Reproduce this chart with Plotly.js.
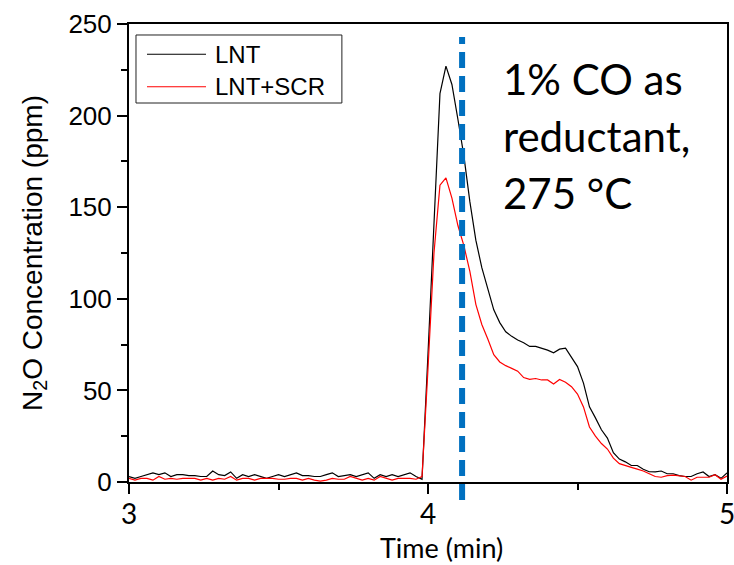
<!DOCTYPE html>
<html><head><meta charset="utf-8">
<script src="https://cdn.plot.ly/plotly-3.0.1.min.js"></script>
<style>html,body{margin:0;padding:0;background:#fff}#chart{width:734px;height:565px}</style>
</head><body><div id="chart"></div>
<script>
const seriesNames = ["LNT", "LNT+SCR"];
const timeMin = [3.00,3.02,3.04,3.06,3.08,3.10,3.12,3.14,3.16,3.18,3.20,3.22,3.24,3.26,3.28,3.30,3.32,3.34,3.36,3.38,3.40,3.42,3.44,3.46,3.48,3.50,3.52,3.54,3.56,3.58,3.60,3.62,3.64,3.66,3.68,3.70,3.72,3.74,3.76,3.78,3.80,3.82,3.84,3.86,3.88,3.90,3.92,3.94,3.96,3.98,
4.00,4.02,4.04,4.06,4.08,4.10,4.12,4.14,4.16,4.18,4.20,4.22,4.24,4.26,4.28,4.30,4.32,4.34,4.36,4.38,4.40,4.42,4.44,4.46,4.48,4.50,4.52,4.54,4.56,4.58,4.60,4.62,4.64,4.66,4.68,4.70,4.72,4.74,4.76,4.78,4.80,4.82,4.84,4.86,4.88,4.90,4.92,4.94,4.96,4.98,5.00];
const lnt = [3,2,3,4,5,4,5,3,4,4,3.5,3.5,3,3,6,4,3.5,5.5,2,4,3,4,3,2,3,4,3,4,5,3.5,3.5,3,3,4,5,3,3.5,4,3,4,5,2,4,3,4,3,4,5,3,1.5,
70,140,212,227,217,198,178,153,132,117,105,94,87,82,79.5,77.5,76,74,74,73,72,70.5,72.5,73,68,63,54,41,35,28.5,24,16,12.5,11,9,9,7,5.6,5.5,6,4.5,4.5,3.5,3,3,4.5,5.5,3,4,2,5];
const lntScr = [2,1,2,2,1,3,1.5,2,1.5,2,2,2,1,2,1,2,1.5,3,1,2,2,1,2,2,2,1.5,1.5,2,2,1,2,1,0.5,1,2,1.5,1.5,3,2,1,2,1,3,2,1,2,2,2,1.5,3,
62,125,162,166,155,140,129,115,97,86,78,69.5,65.5,63.5,62,60.5,57,56,56.5,55.7,55.7,53.5,56,54.5,52,48,41,30,25,21,18,13,10,8.8,8,7,6,4.5,3,2.6,3.5,3.8,3.6,3,1,2.6,2.6,2.6,4,1.5,3.3];
const markerTime = 4.114;
const annotationLines = ["1% CO as", "reductant,", "275 °C"];
const xTitle = "Time (min)";
const yTitle = "N<sub>2</sub>O Concentration (ppm)";
const xTickVals = [3, 4, 5];
const yTickVals = [0, 50, 100, 150, 200, 250];

const colors = ["#000000", "#FF0000"];
const traces = [
  {x: timeMin, y: lnt, name: seriesNames[0], type: "scatter", mode: "lines", line: {color: colors[0], width: 1.2}},
  {x: timeMin, y: lntScr, name: seriesNames[1], type: "scatter", mode: "lines", line: {color: colors[1], width: 1.2}}
];

const annY = [0.880, 0.755, 0.632];
const annotations = annotationLines.map((t, i) => ({
  text: t, xref: "paper", yref: "paper", x: 0.622, y: annY[i], xanchor: "left", yanchor: "middle",
  showarrow: false, font: {family: "Lato, sans-serif", size: 42, color: "#000"}
}));
annotations.push({text: xTitle, xref: "paper", yref: "paper", x: 0.523, y: -0.1435, xanchor: "center", yanchor: "middle",
  showarrow: false, borderpad: 0, font: {family: "Lato, sans-serif", size: 27, color: "#000"}});
// custom legend
const legLineY = [0.9339, 0.863];
const shapes = [
  {type: "line", xref: "x", yref: "paper", x0: markerTime, x1: markerTime, y0: -0.0393, y1: 0.9716,
   line: {color: "#0070C0", width: 6, dash: "16px,8px"}},
  {type: "rect", xref: "paper", yref: "paper", x0: 0.0117, x1: 0.356, y0: 0.8275, y1: 0.976,
   line: {color: "#222", width: 1}, fillcolor: "rgba(0,0,0,0)"}
];
seriesNames.forEach((n, i) => {
  shapes.push({type: "line", xref: "paper", yref: "paper", x0: 0.0301, x1: 0.1288, y0: legLineY[i], y1: legLineY[i],
    line: {color: colors[i], width: 1.2}});
  annotations.push({text: n, xref: "paper", yref: "paper", x: 0.1405, y: legLineY[i], xanchor: "left", yanchor: "middle",
    showarrow: false, font: {family: "Liberation Sans, Arial, sans-serif", size: 24, color: "#000"}});
});

const layout = {
  width: 734, height: 565,
  margin: {l: 129, r: 7, t: 24, b: 83},
  paper_bgcolor: "#fff", plot_bgcolor: "#fff",
  showlegend: false,
  xaxis: {
    range: [3, 5], tickvals: xTickVals, ticktext: xTickVals.map(String),
    ticks: "outside", ticklen: 10, tickwidth: 2, tickcolor: "#000",
    minor: {ticks: "outside", ticklen: 6, dtick: 0.5, tickwidth: 2, tickcolor: "#000", showgrid: false},
    showline: true, linewidth: 2, linecolor: "#000", mirror: true, showgrid: false, zeroline: false,
    ticklabeloverflow: "allow", ticklabelstandoff: -4,
    tickfont: {family: "Lato, sans-serif", size: 28, color: "#000"}
  },
  yaxis: {
    range: [0, 250], tickvals: yTickVals,
    ticks: "outside", ticklen: 10, tickwidth: 2, tickcolor: "#000",
    minor: {ticks: "outside", ticklen: 6, dtick: 25, tickwidth: 2, tickcolor: "#000", showgrid: false},
    showline: true, linewidth: 2, linecolor: "#000", mirror: true, showgrid: false, zeroline: false,
    tickfont: {family: "Liberation Sans, Arial, sans-serif", size: 26, color: "#000"},
    title: {text: yTitle, font: {family: "Liberation Sans, Arial, sans-serif", size: 28, color: "#000"}, standoff: 18}
  },
  shapes: shapes,
  annotations: annotations
};
Plotly.newPlot("chart", traces, layout, {displayModeBar: false, staticPlot: true});
</script></body></html>
